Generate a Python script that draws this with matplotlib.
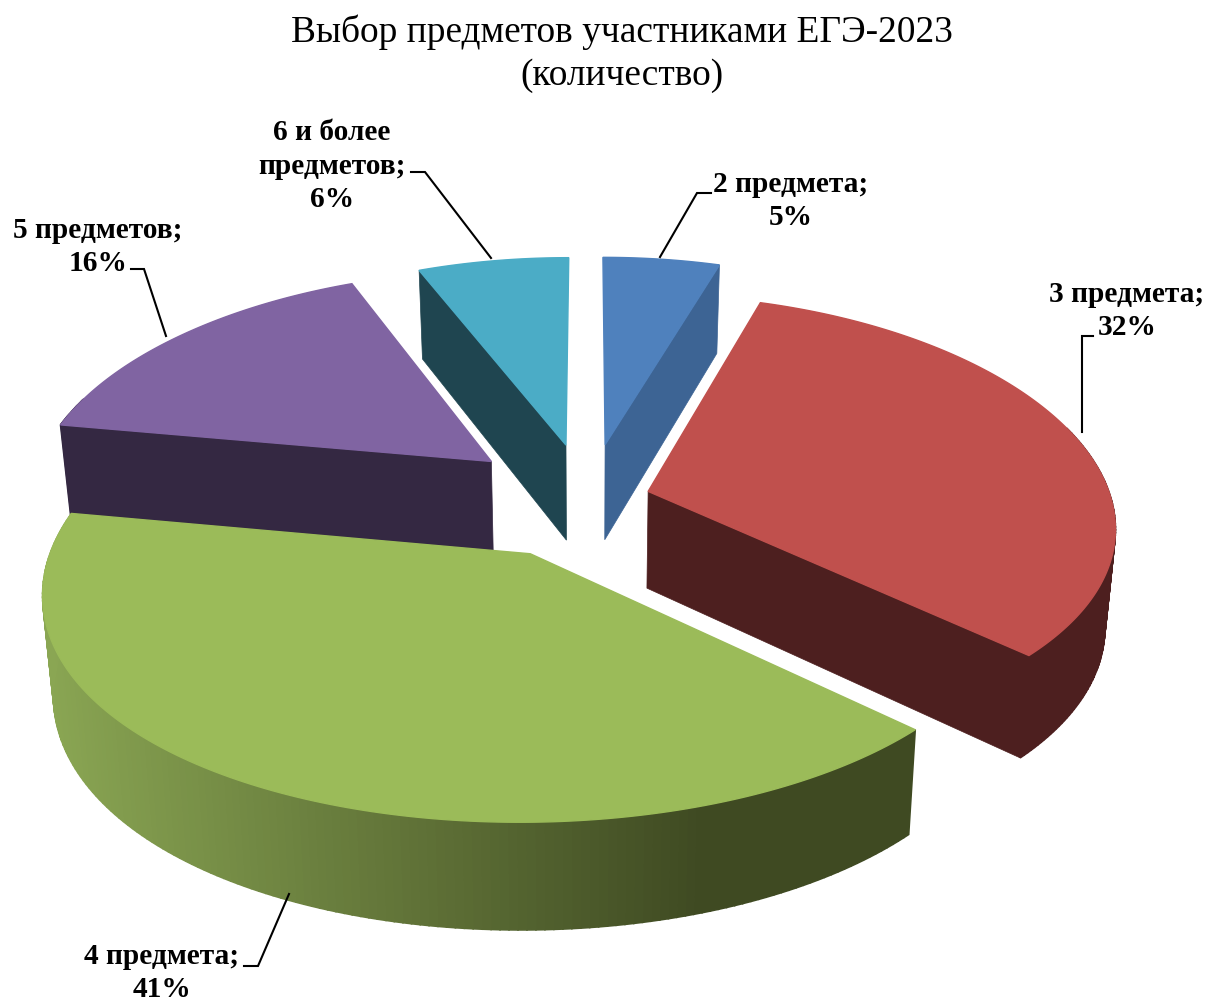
import numpy as np
import matplotlib
matplotlib.use('Agg')
import matplotlib.pyplot as plt
from matplotlib.patches import Polygon

# Данные диаграммы
labels = ['2 предмета;\n5%', '3 предмета;\n32%', '4 предмета;\n41%',
          '5 предметов;\n16%', '6 и более\nпредметов;\n6%']
# доли, в подписях они округлены
values = [4.8, 32.2, 40.8, 16.0, 6.2]

# Вынос секторов
explode = [0.255, 0.135, 0.268, 0.275, 0.255]

top_colors = ['#4F81BD', '#C0504D', '#9BBB59', '#8064A2', '#4BACC6']
side_colors = ['#3D6494', '#4D1F1F', '#3F4A22', '#342842', '#1F4550']
wall_left = ['#3D6494', '#4D1F1F', '#8AA653', '#342842', '#1F4550']

title = 'Выбор предметов участниками ЕГЭ-2023\n(количество)'

# Параметры проекции (пиксели)
cx, cy = 588, 500
A, B = 463, 222
k_x, k_y, k_z = 0.15, 0.12, 0.08
height = 97


def project(X, Y, bottom=False):
    X, Y = np.asarray(X, float), np.asarray(Y, float)
    px = A * X / (1 + k_x * Y)
    py = B * Y / (1 + k_y * Y)
    if bottom:
        return cx + px * 0.98, cy - py + height / (1 + k_z * Y)
    return cx + px, cy - py


def hex_rgb(c):
    return np.array(matplotlib.colors.to_rgb(c))


fig = plt.figure(figsize=(12.08, 10.03), dpi=100)
ax = fig.add_axes([0, 0, 1, 1])
ax.set_xlim(0, 1208)
ax.set_ylim(1003, 0)
ax.axis('off')

fractions = np.array(values) / sum(values)
edges = np.concatenate([[0], np.cumsum(fractions)]) * 2 * np.pi
mids = (edges[:-1] + edges[1:]) / 2

# Рисуем от дальних секторов к ближним
order = np.argsort(-np.cos(mids))
for i in order:
    t = np.linspace(edges[i], edges[i + 1], 160)
    ex, ey = explode[i] * np.sin(mids[i]), explode[i] * np.cos(mids[i])
    X, Y = ex + np.sin(t), ey + np.cos(t)
    tx, ty = project(X, Y)
    bx, by = project(X, Y, bottom=True)
    ax0, ay0 = project(ex, ey)
    bx0, by0 = project(ex, ey, bottom=True)

    # радиальные стенки, только те что смотрят на зрителя
    if np.sin(edges[i]) < -1e-6:
        ax.add_patch(Polygon([(ax0, ay0), (tx[0], ty[0]), (bx[0], by[0]), (bx0, by0)],
                             closed=True, fc=side_colors[i], ec=side_colors[i], lw=0.5))
    if np.sin(edges[i + 1]) > 1e-6:
        ax.add_patch(Polygon([(ax0, ay0), (tx[-1], ty[-1]), (bx[-1], by[-1]), (bx0, by0)],
                             closed=True, fc=side_colors[i], ec=side_colors[i], lw=0.5))

    # внешняя стенка, градиент заканчивается примерно на 3/4 ширины
    left = hex_rgb(wall_left[i])
    right = hex_rgb(side_colors[i])
    for j in range(len(t) - 1):
        if np.cos(t[j]) > 0.3:
            continue
        f = min((tx[j] - tx.min()) / (0.76 * (tx.max() - tx.min())), 1)
        col = left + (right - left) * f
        ax.add_patch(Polygon([(tx[j], ty[j]), (tx[j + 1], ty[j + 1]),
                              (bx[j + 1], by[j + 1]), (bx[j], by[j])],
                             closed=True, fc=col, ec=col, lw=1.2))

    # верхняя грань
    ax.add_patch(Polygon(np.column_stack([np.r_[ax0, tx], np.r_[ay0, ty]]),
                         closed=True, fc=top_colors[i], ec=top_colors[i], lw=1.0))

# Подписи
font = dict(family='Liberation Serif', fontweight='bold', fontsize=21.2,
            ha='center', va='center', linespacing=1.33)
label_xy = [(791, 201), (1127, 311), (162, 973), (98, 247), (332, 166)]
leaders = [[(660, 258), (697, 194), (711, 194)],
           [(1082, 433), (1082, 337), (1093, 337)],
           [(289, 895), (258, 967), (244, 967)],
           [(166, 337), (144, 270), (131, 270)],
           [(491, 259), (425, 173), (411, 173)]]
for lab, xy, line in zip(labels, label_xy, leaders):
    ax.text(xy[0], xy[1], lab, **font)
    line = np.array(line)
    ax.plot(line[:, 0], line[:, 1], color='black', lw=1.5, solid_joinstyle='miter')

ax.text(622, 54, title, family='Liberation Serif', fontsize=26.9, ha='center', va='center',
        linespacing=1.3)

fig.savefig('out.png', dpi=100)
